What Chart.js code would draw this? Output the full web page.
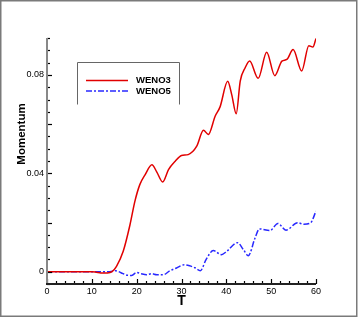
<!DOCTYPE html>
<html>
<head>
<meta charset="utf-8">
<script src="https://cdn.jsdelivr.net/npm/chart.js@4"></script>
<style>
  html, body { margin: 0; padding: 0; background: #fff; }
  #wrap { width: 360px; height: 320px; position: relative; }
</style>
</head>
<body>
<div id="wrap"><canvas id="momentum-chart"></canvas></div>
<script>
// ---- data ----
const weno3T = [0, 5, 10, 11, 12, 13.5, 14.5, 15.5, 17, 18.5, 19.6, 20.7, 21.9, 23.4, 24.5, 25.8, 27.1, 28.6, 30, 31.5, 33.4, 34.9, 36, 37.5, 38.6, 40.3, 41.2, 42.2, 43.1, 44.2, 45.2, 47.1, 49, 50.8, 52.4, 53.5, 54.9, 56.8, 58.4, 59.3, 60];
const weno3M = [0, 0, 0, -0.0002, -0.0005, -0.0005, 0, 0.0022, 0.0083, 0.019, 0.0286, 0.0354, 0.0395, 0.0435, 0.0405, 0.0365, 0.0415, 0.0449, 0.0472, 0.0476, 0.051, 0.0575, 0.0558, 0.0632, 0.067, 0.0774, 0.072, 0.0642, 0.0775, 0.0829, 0.0856, 0.0786, 0.0892, 0.0797, 0.0856, 0.0863, 0.0903, 0.0816, 0.0919, 0.0913, 0.0948];

const weno5T = [0, 10, 14, 15.3, 16.5, 17.8, 18.9, 20, 21, 22.2, 23.3, 24.5, 26, 27.4, 28.9, 30.6, 31.8, 33, 34.2, 35.5, 37.1, 38.9, 40.1, 42.5, 43.8, 44.9, 46.4, 47.4, 49.7, 51.5, 53.3, 55.9, 57.3, 58.8, 60];
const weno5M = [0, 0, 0, 0.0004, -0.0004, -0.0014, -0.0015, -0.0003, -0.0008, -0.0012, -0.0008, -0.0012, -0.0012, 0.0004, 0.0015, 0.0028, 0.0024, 0.0016, 0.0004, 0.005, 0.0086, 0.0069, 0.0083, 0.0118, 0.009, 0.0065, 0.0137, 0.0174, 0.0167, 0.0196, 0.0169, 0.0199, 0.0193, 0.0199, 0.0246];

const seriesNames = ['WENO3', 'WENO5'];
const xTitle = 'T';
const yTitle = 'Momentum';
const yLabelValues = [0, 0.04, 0.08];
const yMajorStep = 0.02, yMinorStep = 0.005;
const xMajorStep = 10, xMinorStep = 2;

const FONT = '"Liberation Sans", Arial, sans-serif';

const toPoints = (xs, ys) => xs.map((x, i) => ({ x, y: ys[i] }));

// frame, inward ticks, axis titles, boxed legend (Tecplot look)
const tecplotDecor = {
  id: 'tecplotDecor',
  beforeDraw(chart) {
    const { ctx } = chart;
    ctx.save();
    ctx.fillStyle = '#fff';
    ctx.fillRect(0, 0, chart.width, chart.height);
    ctx.strokeStyle = '#7a7a7a';
    ctx.lineWidth = 1.5;
    ctx.strokeRect(0.75, 0.75, 356, 315.5);
    ctx.restore();
  },
  afterDatasetsDraw(chart) {
    const { ctx, scales: { x, y } } = chart;
    const left = x.getPixelForValue(x.min), right = x.getPixelForValue(x.max);
    const bottom = y.getPixelForValue(y.min), top = y.getPixelForValue(y.max);
    ctx.save();

    // y ticks (inward)
    ctx.strokeStyle = '#000';
    ctx.lineWidth = 1.2;
    for (let v = y.min; v <= y.max + 1e-9; v += yMinorStep) {
      const py = Math.round(y.getPixelForValue(v)) + 0.5;
      const major = Math.abs(v / yMajorStep - Math.round(v / yMajorStep)) < 1e-6;
      ctx.beginPath();
      ctx.moveTo(left, py);
      ctx.lineTo(left + (major ? 5 : 3), py);
      ctx.stroke();
    }
    // x ticks (inward)
    for (let v = x.min; v <= x.max + 1e-9; v += xMinorStep) {
      const px = Math.round(x.getPixelForValue(v)) + 0.5;
      const major = Math.abs(v / xMajorStep - Math.round(v / xMajorStep)) < 1e-6;
      ctx.beginPath();
      ctx.moveTo(px, bottom);
      ctx.lineTo(px, bottom - (major ? 5 : 3));
      ctx.stroke();
    }

    // axis lines
    ctx.lineWidth = 2;
    ctx.strokeStyle = '#888';
    ctx.beginPath();
    ctx.moveTo(left, top);
    ctx.lineTo(left, bottom);
    ctx.stroke();
    ctx.strokeStyle = '#222';
    ctx.beginPath();
    ctx.moveTo(left - 1, bottom);
    ctx.lineTo(right, bottom);
    ctx.stroke();

    // axis titles
    ctx.fillStyle = '#000';
    ctx.textAlign = 'center';
    ctx.textBaseline = 'middle';
    ctx.font = 'bold 14px ' + FONT;
    ctx.fillText(xTitle, (left + right) / 2, 301);
    ctx.save();
    ctx.translate(21.5, 134);
    ctx.rotate(-Math.PI / 2);
    ctx.font = 'bold 11.5px ' + FONT;
    ctx.fillText(yTitle, 0, 0);
    ctx.restore();

    // legend box (open at the bottom, as in the reference)
    ctx.strokeStyle = '#666';
    ctx.lineWidth = 1;
    ctx.beginPath();
    ctx.moveTo(77.5, 104.5);
    ctx.lineTo(77.5, 62.5);
    ctx.lineTo(179.5, 62.5);
    ctx.lineTo(179.5, 104.5);
    ctx.stroke();

    chart.data.datasets.forEach((ds, i) => {
      const ly = 80.5 + i * 10.4;
      ctx.strokeStyle = ds.borderColor;
      ctx.lineWidth = ds.borderWidth;
      ctx.setLineDash(ds.borderDash || []);
      ctx.beginPath();
      ctx.moveTo(86, ly);
      ctx.lineTo(128, ly);
      ctx.stroke();
      ctx.setLineDash([]);
      ctx.fillStyle = '#000';
      ctx.textAlign = 'left';
      ctx.font = 'bold 9.5px ' + FONT;
      ctx.fillText(ds.label, 136, ly);
    });

    ctx.restore();
  }
};

new Chart(document.getElementById('momentum-chart'), {
  type: 'line',
  data: {
    datasets: [
      {
        label: seriesNames[0],
        data: toPoints(weno3T, weno3M),
        borderColor: 'rgb(225,0,0)',
        borderWidth: 1.5,
        pointRadius: 0,
        cubicInterpolationMode: 'monotone',
        fill: false,
      },
      {
        label: seriesNames[1],
        data: toPoints(weno5T, weno5M),
        borderColor: 'rgb(40,40,255)',
        borderWidth: 1.5,
        borderDash: [6, 2, 2, 2],
        pointRadius: 0,
        cubicInterpolationMode: 'monotone',
        fill: false,
      },
    ],
  },
  options: {
    responsive: true, maintainAspectRatio: false, animation: false,
    layout: { padding: { top: 38, right: 44, left: 0, bottom: 0 } },
    plugins: { legend: { display: false }, tooltip: { enabled: false } },
    scales: {
      x: {
        type: 'linear', min: 0, max: 60,
        grid: { display: false, drawTicks: false },
        border: { display: false },
        ticks: { stepSize: xMajorStep, padding: 2, color: '#000', font: { family: FONT, size: 9 }, maxRotation: 0 },
        afterFit: s => { s.height = 36; },
      },
      y: {
        type: 'linear', min: -0.005, max: 0.095,
        grid: { display: false, drawTicks: false },
        border: { display: false },
        afterBuildTicks: s => { s.ticks = yLabelValues.map(v => ({ value: v })); },
        ticks: { padding: 3, color: '#000', font: { family: FONT, size: 9 }, callback: v => v === 0 ? '0' : v.toFixed(2) },
        afterFit: s => { s.width = 47; },
      },
    },
  },
  plugins: [tecplotDecor],
});
</script>
</body>
</html>
